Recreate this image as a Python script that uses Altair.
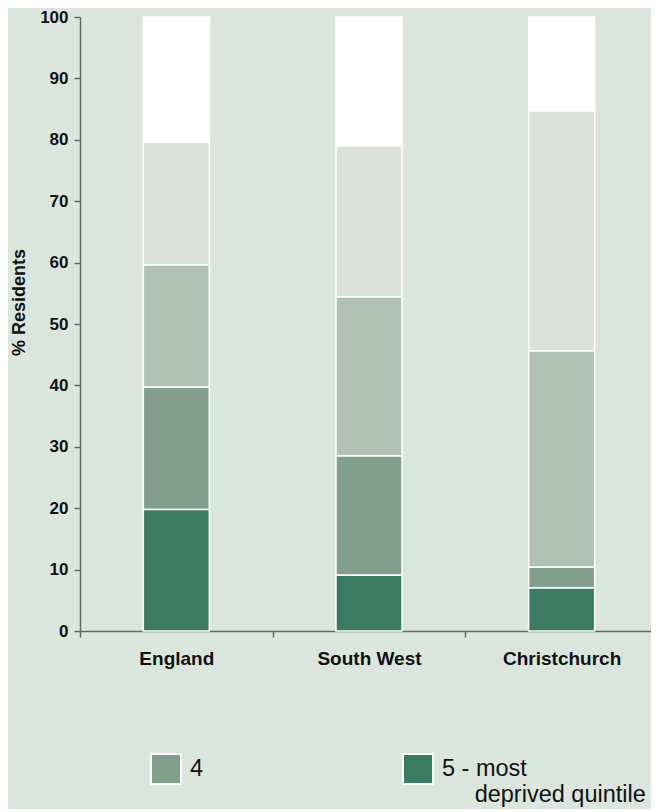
import altair as alt
import pandas as pd

areas = ["England", "South West", "Christchurch"]
quintiles = ["1 - least deprived quintile", "2", "3", "4", "5 - most deprived quintile"]
# values per quintile (bottom segment is quintile 5)
q1 = [20.4, 21.0, 15.3]
q2 = [20.0, 24.6, 39.1]
q3 = [19.9, 25.9, 35.2]
q4 = [19.9, 19.4, 3.4]
q5 = [19.8, 9.1, 7.0]
colors = ["#ffffff", "#dde1dc", "#b1c1b4", "#819f8b", "#3b7a63"]

rows = []
for i, a in enumerate(areas):
    for j, (qn, vals) in enumerate(zip(quintiles, [q1, q2, q3, q4, q5])):
        rows.append({"area": a, "quintile": qn, "value": vals[i], "order": 5 - j})
df = pd.DataFrame(rows)

W, H = 578, 614

label_expr = ("datum.label == '5 - most deprived quintile' ? "
              "['5 - most', '\u200b\u00a0\u00a0\u00a0\u00a0\u00a0deprived quintile'] : "
              "[datum.label, '']")

bars = alt.Chart(df).mark_bar(size=66, stroke="white", strokeWidth=1.5).encode(
    x=alt.X("area:N", sort=areas,
            scale=alt.Scale(paddingInner=0, paddingOuter=0),
            axis=alt.Axis(title=None, labelAngle=0, tickBand="extent",
                          labelFont="Liberation Sans", labelFontSize=19,
                          labelFontWeight="bold", labelColor="#111",
                          labelPadding=12, tickSize=6, tickColor="#666",
                          domainColor="#666", domainWidth=1.5, tickWidth=1.5)),
    y=alt.Y("value:Q", stack="zero",
            scale=alt.Scale(domain=[0, 100], nice=False),
            axis=alt.Axis(title="% Residents", values=list(range(0, 101, 10)),
                          grid=False, labelFont="Liberation Sans", labelFontSize=17,
                          labelFontWeight="bold", labelColor="#111", labelPadding=6,
                          titleFont="Liberation Sans", titleFontSize=18,
                          titleFontWeight="bold", titleColor="#111", titlePadding=11,
                          titleY=285,
                          tickSize=6, tickColor="#666", domainColor="#666",
                          domainWidth=1.5, tickWidth=1.5)),
    color=alt.Color("quintile:N", sort=quintiles,
                    scale=alt.Scale(domain=quintiles, range=colors),
                    legend=alt.Legend(
                        title=None, values=["4", "5 - most deprived quintile"],
                        orient="none", legendX=70, legendY=736, direction="horizontal",
                        columns=2, columnPadding=195, symbolType="square",
                        symbolSize=900, symbolStrokeColor="white",
                        symbolStrokeWidth=2, symbolOpacity=1,
                        labelFont="Liberation Sans", labelFontSize=23.5,
                        labelColor="#111", labelOffset=8, labelLimit=400,
                        labelExpr=label_expr)),
    order=alt.Order("order:Q", sort="ascending"),
)

end_tick = alt.Chart(pd.DataFrame({"v": [0]})).mark_rule(color="#666", strokeWidth=1.5).encode(
    x=alt.value(W), y=alt.value(H), y2=alt.value(H + 6)
)

chart = alt.layer(bars, end_tick).properties(
    width=W, height=H,
    background="#dae6dd",
    padding={"left": 72, "top": 9, "right": -7, "bottom": 178},
    autosize=alt.AutoSizeParams(type="none"),
).configure_view(stroke=None)

chart.save("out.html", embed_options={"renderer": "svg", "actions": False})
